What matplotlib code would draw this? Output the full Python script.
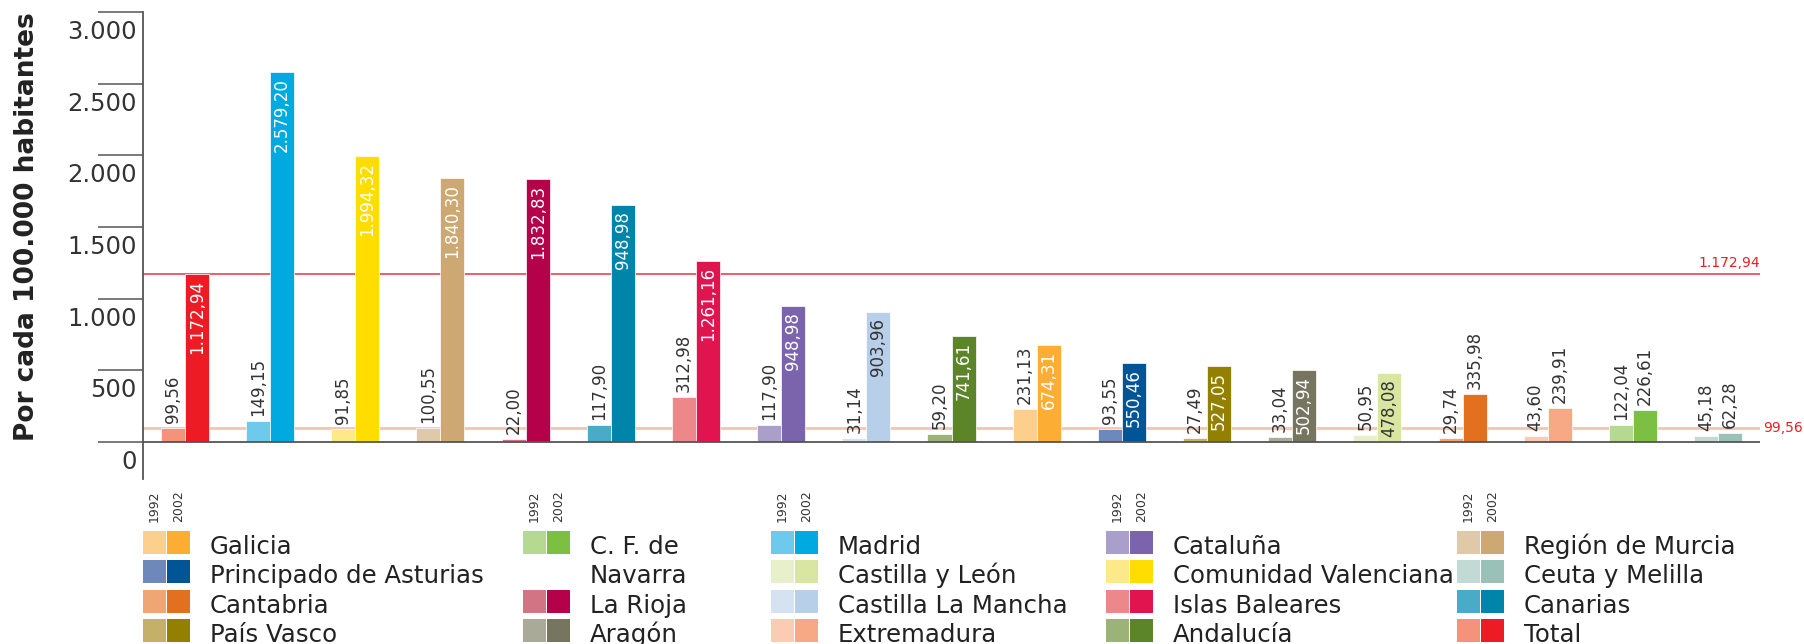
import matplotlib
matplotlib.use("Agg")
import matplotlib.pyplot as plt
import matplotlib.transforms as mtransforms
from matplotlib.patches import Rectangle
import numpy as np

# datos (por cada 100.000 habitantes)
regions = ["Total", "Madrid", "Comunidad Valenciana", "Región de Murcia", "La Rioja",
           "Canarias", "Islas Baleares", "Cataluña", "Castilla La Mancha", "Andalucía",
           "Galicia", "Principado de Asturias", "País Vasco", "Aragón", "Castilla y León",
           "Cantabria", "Extremadura", "C. F. de Navarra", "Ceuta y Melilla"]
values_1992 = [99.56, 149.15, 91.85, 100.55, 22.00, 117.90, 312.98, 117.90, 31.14, 59.20,
               231.13, 93.55, 27.49, 33.04, 50.95, 29.74, 43.60, 122.04, 45.18]
values_2002 = [1172.94, 2579.20, 1994.32, 1840.30, 1832.83, 1654.0, 1261.16, 948.98, 903.96,
               741.61, 674.31, 550.46, 527.05, 502.94, 478.08, 335.98, 239.91, 226.61, 62.28]
labels_1992 = ["99,56", "149,15", "91,85", "100,55", "22,00", "117,90", "312,98", "117,90",
               "31,14", "59,20", "231,13", "93,55", "27,49", "33,04", "50,95", "29,74",
               "43,60", "122,04", "45,18"]
labels_2002 = ["1.172,94", "2.579,20", "1.994,32", "1.840,30", "1.832,83", "948,98",
               "1.261,16", "948,98", "903,96", "741,61", "674,31", "550,46", "527,05",
               "502,94", "478,08", "335,98", "239,91", "226,61", "62,28"]
ref_total = 1172.94
ref_total_1992 = 99.56
yticks = [0, 500, 1000, 1500, 2000, 2500, 3000]
years = ["1992", "2002"]

# colores (claro 1992, oscuro 2002)
colors = {
    "Total": ("#f4927a", "#ed1c24"),
    "Madrid": ("#6dcaec", "#00a9e0"),
    "Comunidad Valenciana": ("#fee98a", "#ffdd00"),
    "Región de Murcia": ("#e0c9a8", "#cda872"),
    "La Rioja": ("#d27484", "#b5004a"),
    "Canarias": ("#4aabc9", "#0085aa"),
    "Islas Baleares": ("#ec8889", "#e2144f"),
    "Cataluña": ("#aa9fcb", "#7b64ac"),
    "Castilla La Mancha": ("#d5e2f2", "#b8cfe9"),
    "Andalucía": ("#9bb377", "#5c8428"),
    "Galicia": ("#fdcf8d", "#fbae33"),
    "Principado de Asturias": ("#6d88bb", "#005596"),
    "País Vasco": ("#c4b068", "#937f00"),
    "Aragón": ("#aaaa99", "#767560"),
    "Castilla y León": ("#e8f0cb", "#d9e6a2"),
    "Cantabria": ("#efa674", "#e3701e"),
    "Extremadura": ("#fbcbb4", "#f7a985"),
    "C. F. de Navarra": ("#b5d98f", "#7bc043"),
    "Ceuta y Melilla": ("#c1dbd4", "#99c1b7"),
}
dark_text = {"Castilla La Mancha", "Castilla y León"}

W, H, DPI = 1804, 644, 100
fig = plt.figure(figsize=(W / DPI, H / DPI), dpi=DPI)
plt.rcParams['font.family'] = ['DejaVu Sans']

ax_l, ax_r, ax_t, ax_b = 143, 1760, 12, 479
ax = fig.add_axes([ax_l / W, 1 - ax_b / H, (ax_r - ax_l) / W, (ax_b - ax_t) / H])

x = np.arange(len(regions))
bw = 0.2818
light = [colors[r][0] for r in regions]
dark = [colors[r][1] for r in regions]
ax.bar(x - bw / 2, values_1992, bw, color=light, edgecolor="white", linewidth=0.5, zorder=3)
ax.bar(x + bw / 2, values_2002, bw, color=dark, edgecolor="white", linewidth=0.5, zorder=3)

ax.set_xlim(-0.493, len(regions) - 1 + 0.493)
ax.set_ylim(-258, 3000)

# lineas de referencia
ax.axhline(ref_total, color="#e8373a", lw=1.1, zorder=2)
ax.axhline(ref_total_1992, color="#f9c2b6", lw=2, zorder=2)
ax.axhline(0, color="#555555", lw=1.3, zorder=4)

txt_up = mtransforms.offset_copy(ax.transData, fig=fig, y=5, units="dots")
txt_in = mtransforms.offset_copy(ax.transData, fig=fig, y=-6, units="dots")
for i, r in enumerate(regions):
    ax.text(x[i] - bw / 2, values_1992[i], labels_1992[i], transform=txt_up, rotation=90,
            ha="center", va="bottom", fontsize=12, color="#333333", zorder=5)
    if values_2002[i] > 400:
        c = "#333333" if r in dark_text else "white"
        ax.text(x[i] + bw / 2, values_2002[i], labels_2002[i], transform=txt_in, rotation=90,
                ha="center", va="top", fontsize=12, color=c, zorder=5)
    else:
        ax.text(x[i] + bw / 2, values_2002[i], labels_2002[i], transform=txt_up, rotation=90,
                ha="center", va="bottom", fontsize=12, color="#333333", zorder=5)

# etiquetas de las lineas de referencia
ref_tr = mtransforms.offset_copy(ax.get_yaxis_transform(), fig=fig, y=4, units="dots")
ax.text(1.0, ref_total, "1.172,94", transform=ref_tr, ha="right", va="bottom",
        fontsize=10, color="#ed1c24")
ref_tr2 = mtransforms.offset_copy(ax.get_yaxis_transform(), fig=fig, x=3, units="dots")
ax.text(1.0, ref_total_1992, "99,56", transform=ref_tr2, ha="left", va="center",
        fontsize=10, color="#ed1c24", clip_on=False)

# eje y
for s in ["top", "right", "bottom"]:
    ax.spines[s].set_visible(False)
ax.spines["left"].set_color("#555555")
ax.spines["left"].set_linewidth(1.3)
ax.set_xticks([])
ax.set_yticks(yticks)
ax.set_yticklabels([])
ax.tick_params(axis="y", length=45 * 72 / DPI, width=1.1, color="#555555", direction="out")
tick_tr = mtransforms.offset_copy(ax.get_yaxis_transform(), fig=fig, x=-6, y=-8, units="dots")
for t in yticks:
    ax.text(0, t, f"{t:,}".replace(",", "."), transform=tick_tr, ha="right", va="top",
            fontsize=17.5, color="#333333")

fig.text(27 / W, 1 - 227 / H, "Por cada 100.000 habitantes", rotation=90, ha="center",
         va="center", fontsize=19, fontweight="bold", color="#222222")

# leyenda
legend_cols = [
    (143, [("Galicia", "Galicia"), ("Principado de Asturias", "Principado de Asturias"),
           ("Cantabria", "Cantabria"), ("País Vasco", "País Vasco")]),
    (523, [("C. F. de", "C. F. de Navarra"), ("Navarra", None),
           ("La Rioja", "La Rioja"), ("Aragón", "Aragón")]),
    (771, [("Madrid", "Madrid"), ("Castilla y León", "Castilla y León"),
           ("Castilla La Mancha", "Castilla La Mancha"), ("Extremadura", "Extremadura")]),
    (1106, [("Cataluña", "Cataluña"), ("Comunidad Valenciana", "Comunidad Valenciana"),
            ("Islas Baleares", "Islas Baleares"), ("Andalucía", "Andalucía")]),
    (1457, [("Región de Murcia", "Región de Murcia"), ("Ceuta y Melilla", "Ceuta y Melilla"),
            ("Canarias", "Canarias"), ("Total", "Total")]),
]
sw = 23
row_top = [531, 560, 590, 619]


def fx(px):
    return px / W


def fy(py):
    return 1 - py / H


for x0, rows in legend_cols:
    for k, yr in enumerate(years):
        fig.text(fx(x0 + k * (sw + 1) + sw / 2), fy(522), yr, rotation=90, ha="center",
                 va="bottom", fontsize=9, color="#333333")
    for j, (txt, reg) in enumerate(rows):
        top = row_top[j]
        if reg is not None:
            for k in range(2):
                fig.add_artist(Rectangle((fx(x0 + k * (sw + 1)), fy(top + sw)), sw / W, sw / H,
                                         transform=fig.transFigure, color=colors[reg][k], lw=0))
        fig.text(fx(x0 + 67), fy(top + sw), txt, ha="left", va="baseline",
                 fontsize=17.6, color="#222222")

fig.savefig("out.png", dpi=DPI)
